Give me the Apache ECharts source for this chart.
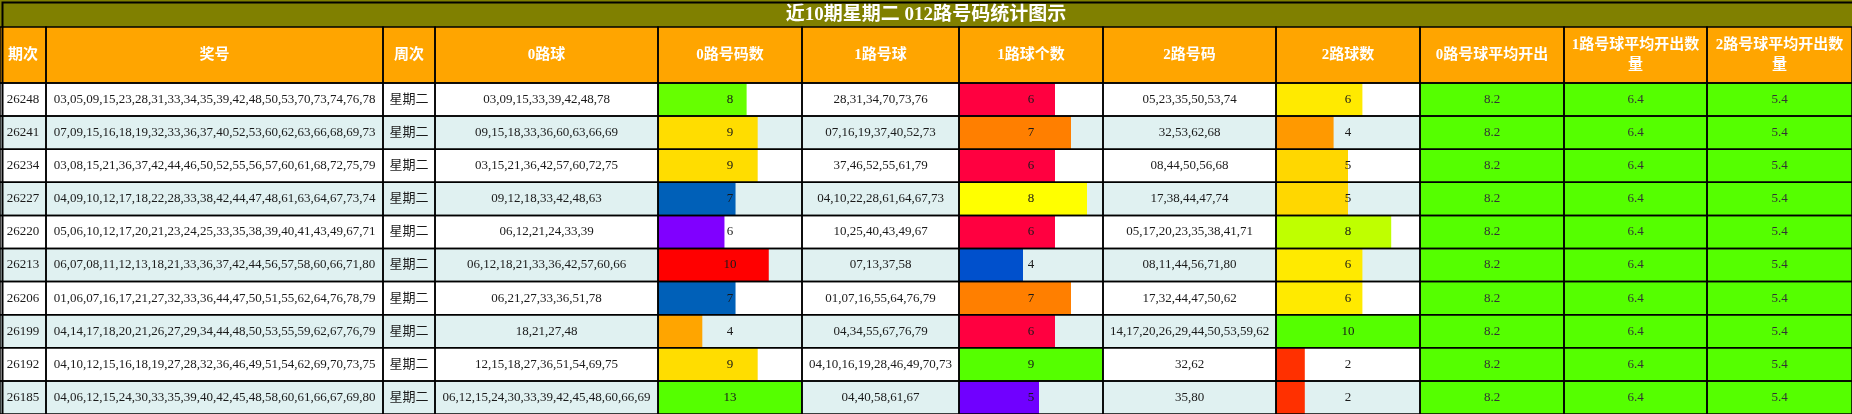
<!DOCTYPE html>
<html style="height: 100%">
<head>
    <meta charset="utf-8">
</head>
<body style="height: 100%; margin: 0">
<div id="container" style="width: 1852px; height: 414px"></div>
<script type="text/javascript" src="https://cdn.jsdelivr.net/npm/echarts@6/dist/echarts.min.js"></script>
<script type="text/javascript">
var titleText = '近10期星期二 012路号码统计图示';
var headers = ['期次', '奖号', '周次', '0路球', '0路号码数', '1路号球', '1路球个数',
    '2路号码', '2路球数', '0路号球平均开出', '1路号球平均开出数量', '2路号球平均开出数量'];
var issues = ['26248', '26241', '26234', '26227', '26220', '26213', '26206', '26199', '26192', '26185'];
var weekday = '星期二';
var draws = [
    '03,05,09,15,23,28,31,33,34,35,39,42,48,50,53,70,73,74,76,78',
    '07,09,15,16,18,19,32,33,36,37,40,52,53,60,62,63,66,68,69,73',
    '03,08,15,21,36,37,42,44,46,50,52,55,56,57,60,61,68,72,75,79',
    '04,09,10,12,17,18,22,28,33,38,42,44,47,48,61,63,64,67,73,74',
    '05,06,10,12,17,20,21,23,24,25,33,35,38,39,40,41,43,49,67,71',
    '06,07,08,11,12,13,18,21,33,36,37,42,44,56,57,58,60,66,71,80',
    '01,06,07,16,17,21,27,32,33,36,44,47,50,51,55,62,64,76,78,79',
    '04,14,17,18,20,21,26,27,29,34,44,48,50,53,55,59,62,67,76,79',
    '04,10,12,15,16,18,19,27,28,32,36,46,49,51,54,62,69,70,73,75',
    '04,06,12,15,24,30,33,35,39,40,42,45,48,58,60,61,66,67,69,80'
];
var road0 = [
    '03,09,15,33,39,42,48,78', '09,15,18,33,36,60,63,66,69', '03,15,21,36,42,57,60,72,75',
    '09,12,18,33,42,48,63', '06,12,21,24,33,39', '06,12,18,21,33,36,42,57,60,66',
    '06,21,27,33,36,51,78', '18,21,27,48', '12,15,18,27,36,51,54,69,75',
    '06,12,15,24,30,33,39,42,45,48,60,66,69'
];
var road1 = [
    '28,31,34,70,73,76', '07,16,19,37,40,52,73', '37,46,52,55,61,79',
    '04,10,22,28,61,64,67,73', '10,25,40,43,49,67', '07,13,37,58',
    '01,07,16,55,64,76,79', '04,34,55,67,76,79', '04,10,16,19,28,46,49,70,73',
    '04,40,58,61,67'
];
var road2 = [
    '05,23,35,50,53,74', '32,53,62,68', '08,44,50,56,68', '17,38,44,47,74',
    '05,17,20,23,35,38,41,71', '08,11,44,56,71,80', '17,32,44,47,50,62',
    '14,17,20,26,29,44,50,53,59,62', '32,62', '35,80'
];
var count0 = [8, 9, 9, 7, 6, 10, 7, 4, 9, 13];
var count1 = [6, 7, 6, 8, 6, 4, 7, 6, 9, 5];
var count2 = [6, 4, 5, 5, 8, 6, 6, 10, 2, 2];
var averages = [8.2, 6.4, 5.4];

// layout / style
var colWidths = [46, 337, 52, 223, 144, 157, 144, 173, 144, 144, 143, 145];
var colStart = [];
var totalWidth = 0;
colWidths.forEach(function (w) { colStart.push(totalWidth); totalWidth += w; });

var palette0 = {4: '#ffa500', 6: '#8000ff', 7: '#0060b8', 8: '#66ff00', 9: '#ffdd00', 10: '#ff0000', 13: '#55ff00'};
var palette1 = {4: '#0050cc', 5: '#7000ff', 6: '#ff0040', 7: '#ff7f00', 8: '#ffff00', 9: '#55ff00'};
var palette2 = {2: '#ff3000', 4: '#ff9900', 5: '#ffd700', 6: '#ffea00', 8: '#bfff00', 10: '#55ff00'};
var avgColor = '#55ff00';
var rowColors = ['#ffffff', '#e0f1f1'];
var fontBody = '13px "Liberation Serif", "Noto Sans CJK SC", serif';
var fontHead = 'bold 15px "Liberation Serif", "Noto Sans CJK SC", serif';

function maxOf(arr) { return Math.max.apply(null, arr); }

function cellInfo(c, r) {
    switch (c) {
        case 0: return {text: issues[r]};
        case 1: return {text: draws[r]};
        case 2: return {text: weekday};
        case 3: return {text: road0[r]};
        case 4: return {text: String(count0[r]), bar: count0[r] / maxOf(count0), color: palette0[count0[r]]};
        case 5: return {text: road1[r]};
        case 6: return {text: String(count1[r]), bar: count1[r] / maxOf(count1), color: palette1[count1[r]]};
        case 7: return {text: road2[r]};
        case 8: return {text: String(count2[r]), bar: count2[r] / maxOf(count2), color: palette2[count2[r]]};
        default: return {text: averages[c - 9].toFixed(1), fill: avgColor, textColor: '#333'};
    }
}

var bodyData = [];
for (var r = 0; r < issues.length; r++) {
    for (var c = 0; c < headers.length; c++) bodyData.push([c, r]);
}
var headData = headers.map(function (h, i) { return [i, 0]; });

function cellBox(api, c, r) {
    var x0 = colStart[c], x1 = x0 + colWidths[c];
    var p0 = api.coord([x0, r]);
    var p1 = api.coord([x1, r]);
    var h = api.size([0, 1])[1];
    return {x: p0[0], y: p0[1] - h / 2, width: p1[0] - p0[0], height: h};
}

function renderBody(params, api) {
    var c = api.value(0), r = api.value(1);
    var box = cellBox(api, c, r);
    var info = cellInfo(c, r);
    var children = [{
        type: 'rect', shape: box, z2: 0,
        style: {fill: info.fill || rowColors[r % 2]}
    }];
    if (info.bar != null) {
        var end = api.coord([colStart[c] + info.bar * colWidths[c], r])[0];
        children.push({
            type: 'rect', z2: 1,
            shape: {x: box.x, y: box.y, width: end - box.x, height: box.height},
            style: {fill: info.color}
        });
    }
    children.push({
        type: 'text', z2: 2,
        style: {
            text: info.text, x: box.x + box.width / 2, y: box.y + box.height / 2,
            align: 'center', verticalAlign: 'middle',
            font: fontBody, fill: info.textColor || '#1a1a1a'
        }
    });
    children.push({
        type: 'rect', shape: box, z2: 10,
        style: {fill: 'none', stroke: '#000', lineWidth: 1.5}
    });
    return {type: 'group', children: children};
}

function renderHead(params, api) {
    var c = api.value(0);
    var box = cellBox(api, c, 0);
    return {
        type: 'group',
        children: [{
            type: 'rect', shape: box, z2: 0,
            style: {fill: '#ffa500'}
        }, {
            type: 'text', z2: 2,
            style: {
                text: headers[c], x: box.x + box.width / 2, y: box.y + box.height / 2,
                align: 'center', verticalAlign: 'middle',
                width: box.width - 12, overflow: 'break', lineHeight: 20,
                font: fontHead, fill: '#fff'
            }
        }, {
            type: 'rect', shape: box, z2: 10,
            style: {fill: 'none', stroke: '#000', lineWidth: 1.5}
        }]
    };
}

var dom = document.getElementById('container');
var myChart = echarts.init(dom);

myChart.setOption({
    backgroundColor: '#808000',
    animation: false,
    title: {
        text: titleText,
        left: 'center',
        top: 0,
        padding: [6, 5, 2, 5],
        textStyle: {
            color: '#fff', fontSize: 19, fontWeight: 'bold',
            fontFamily: '"Liberation Serif", "Noto Sans CJK SC", serif'
        }
    },
    grid: [
        {left: 0, right: 0, top: 83, bottom: 0},
        {left: 0, right: 0, top: 27, height: 56}
    ],
    xAxis: [
        {type: 'value', gridIndex: 0, min: 0, max: totalWidth, show: false},
        {type: 'value', gridIndex: 1, min: 0, max: totalWidth, show: false}
    ],
    yAxis: [
        {type: 'category', gridIndex: 0, data: issues, inverse: true, show: false},
        {type: 'category', gridIndex: 1, data: ['head'], show: false}
    ],
    graphic: [{
        type: 'rect', left: 0, top: 0, z: 100, silent: true,
        shape: {width: myChart.getWidth(), height: myChart.getHeight()},
        style: {fill: 'none', stroke: '#000', lineWidth: 2}
    }],
    series: [{
        type: 'custom', name: 'body', xAxisIndex: 0, yAxisIndex: 0,
        renderItem: renderBody, data: bodyData, silent: true
    }, {
        type: 'custom', name: 'head', xAxisIndex: 1, yAxisIndex: 1,
        renderItem: renderHead, data: headData, silent: true
    }]
});
</script>
</body>
</html>
